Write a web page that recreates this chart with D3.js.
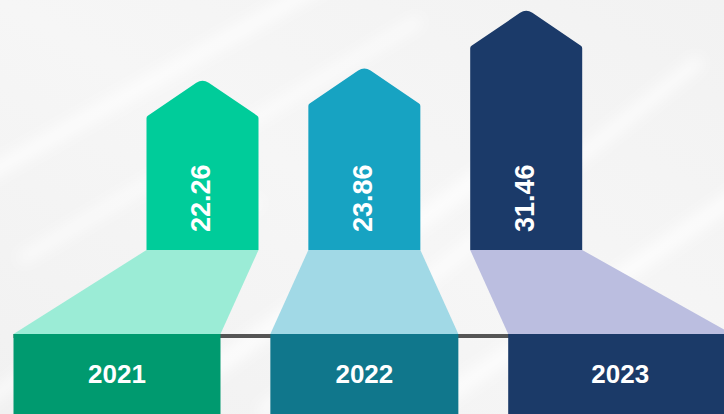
<!DOCTYPE html>
<html>
<head>
<meta charset="utf-8">
<script src="https://cdn.jsdelivr.net/npm/d3@7"></script>
<style>
  html, body { margin: 0; padding: 0; background: #f3f3f3; }
  svg { display: block; }
  text { font-family: "Liberation Sans", Arial, sans-serif; font-weight: bold; fill: #ffffff; }
</style>
</head>
<body>
<svg id="chart" width="724" height="414"></svg>
<script>
// Yearly values
const years = ["2021", "2022", "2023"];
const values = [22.26, 23.86, 31.46];

// Colour per year: arrow, floor band, year plate
const arrowColors = ["#00cc9a", "#17a3c2", "#1b3a69"];
const floorColors = ["#9becd6", "#a1d9e6", "#bbbee0"];
const plateColors = ["#009a6f", "#10778c", "#1b3a68"];

const W = 724, H = 414;
const baseY = 250;      // foot of the arrows
const plateY = 334;     // top of the year plates
const headH = 38;       // arrow head height
const tipR = 11, shoulderR = 3;
const flareInner = 38, flareOuterLeft = 133, flareOuterRight = 150;

const svg = d3.select("#chart");

// Soft background with light diagonal streaks
const defs = svg.append("defs");
defs.append("filter").attr("id", "soft").attr("x", "-20%").attr("y", "-20%")
  .attr("width", "140%").attr("height", "140%")
  .append("feGaussianBlur").attr("stdDeviation", 7);
const bg = defs.append("linearGradient").attr("id", "bgGrad")
  .attr("x1", "0").attr("y1", "1").attr("x2", "1").attr("y2", "0");
bg.append("stop").attr("offset", "0").attr("stop-color", "#f1f1f1");
bg.append("stop").attr("offset", "0.5").attr("stop-color", "#f6f6f6");
bg.append("stop").attr("offset", "1").attr("stop-color", "#f2f2f2");
svg.append("rect").attr("width", W).attr("height", H).attr("fill", "url(#bgGrad)");

const streaks = [
  [-40, 190, 330, -20, 14],
  [20, 260, 420, 20, 10],
  [150, 414, 560, 120, 18],
  [260, 414, 700, 60, 12],
  [420, 414, 760, 180, 16],
  [-30, 414, 260, 200, 10]
];
svg.append("g").attr("filter", "url(#soft)")
  .selectAll("line").data(streaks).join("line")
  .attr("x1", d => d[0]).attr("y1", d => d[1])
  .attr("x2", d => d[2]).attr("y2", d => d[3])
  .attr("stroke", "#ffffff").attr("stroke-width", d => d[4])
  .attr("stroke-opacity", 0.75);

// Scales
const x = d3.scaleBand().domain(years).range([146.5, 582.2])
  .paddingInner(0.308).paddingOuter(0);
const y = d3.scaleLinear().domain([0, 32.9]).range([baseY, 0]);
const bw = x.bandwidth();
const midX = (x.range()[0] + x.range()[1]) / 2;

const data = years.map((yr, i) => ({ year: yr, value: values[i], i }));

// Floor edges spread away from the middle of the chart
function plateEdge(e, i, side) {
  const outer = (side === "left" && i === 0) || (side === "right" && i === years.length - 1);
  const f = outer ? (side === "left" ? flareOuterLeft : flareOuterRight) : flareInner;
  return e + Math.sign(e - midX) * f;
}
data.forEach(d => {
  d.x0 = x(d.year);
  d.x1 = d.x0 + bw;
  d.px0 = plateEdge(d.x0, d.i, "left");
  d.px1 = plateEdge(d.x1, d.i, "right");
});

// Baseline behind the plates
svg.append("rect")
  .attr("x", data[0].px0).attr("y", plateY)
  .attr("width", W - data[0].px0).attr("height", 4)
  .attr("fill", "#555555");

// Floor bands
svg.append("g").selectAll("path").data(data).join("path")
  .attr("d", d => `M${d.x0},${baseY}L${d.x1},${baseY}L${d.px1},${plateY}L${d.px0},${plateY}Z`)
  .attr("fill", (d, i) => floorColors[i]);

// Year plates
svg.append("g").selectAll("rect").data(data).join("rect")
  .attr("x", d => d.px0).attr("y", plateY)
  .attr("width", d => d.px1 - d.px0).attr("height", H - plateY + 4)
  .attr("fill", (d, i) => plateColors[i]);

svg.append("g").selectAll("text").data(data).join("text")
  .attr("x", d => (d.px0 + d.px1) / 2)
  .attr("y", 383)
  .attr("text-anchor", "middle")
  .attr("font-size", 26)
  .text(d => d.year);

// Arrows
function arrowPath(d) {
  const w = bw / 2;
  const xc = d.x0 + w;
  const apex = y(d.value) - tipR * (Math.hypot(w, headH) / w - 1);
  const shoulder = apex + headH;
  const p = d3.path();
  p.moveTo(d.x0, baseY);
  p.arcTo(d.x0, shoulder, xc, apex, shoulderR);
  p.arcTo(xc, apex, d.x1, shoulder, tipR);
  p.arcTo(d.x1, shoulder, d.x1, baseY, shoulderR);
  p.lineTo(d.x1, baseY);
  p.closePath();
  return p.toString();
}
svg.append("g").selectAll("path").data(data).join("path")
  .attr("d", arrowPath)
  .attr("fill", (d, i) => arrowColors[i]);

// Value labels, written upward inside each arrow
svg.append("g").selectAll("text").data(data).join("text")
  .attr("transform", d => `translate(${d.x0 + bw / 2 - 2.1},232) rotate(-90)`)
  .attr("text-anchor", "start")
  .attr("dy", "0.35em")
  .attr("font-size", 27)
  .text(d => d3.format(".2f")(d.value));
</script>
</body>
</html>
